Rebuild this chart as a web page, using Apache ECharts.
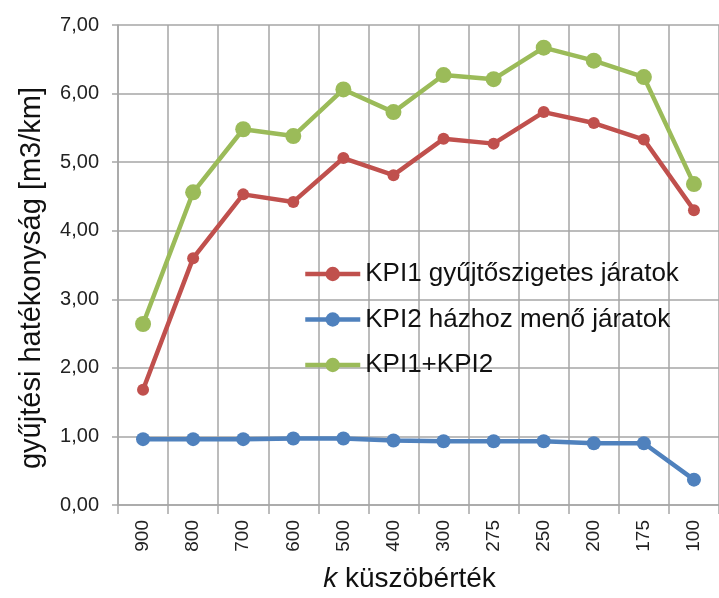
<!DOCTYPE html>
<html>
<head>
<meta charset="utf-8">
<script src="https://cdn.jsdelivr.net/npm/echarts@6/dist/echarts.min.js"></script>
<style>html,body{margin:0;padding:0;background:#fff}#c{width:719px;height:598px}</style>
</head>
<body>
<div id="c"></div>
<script>
var categories = ['900','800','700','600','500','400','300','275','250','200','175','100'];
var kpi1 = [1.68, 3.60, 4.53, 4.42, 5.06, 4.81, 5.34, 5.27, 5.73, 5.57, 5.33, 4.30];
var kpi2 = [0.96, 0.96, 0.96, 0.97, 0.97, 0.94, 0.93, 0.93, 0.93, 0.90, 0.90, 0.37];
var kpiSum = [2.64, 4.56, 5.48, 5.38, 6.06, 5.73, 6.27, 6.21, 6.67, 6.48, 6.24, 4.68];
var names = ['KPI1 gyűjtőszigetes járatok', 'KPI2 házhoz menő járatok', 'KPI1+KPI2'];
var yTicks = [0, 1, 2, 3, 4, 5, 6, 7];

var FONT = 'Liberation Sans';
var gridColor = '#a6a6a6';
var chart = echarts.init(document.getElementById('c'), null, {renderer: 'canvas'});

function mk(name, data, color, size) {
  return {
    name: name, type: 'line', data: data,
    symbol: 'circle', symbolSize: size,
    lineStyle: {width: 4.5, color: color},
    itemStyle: {color: color},
    animation: false
  };
}

chart.setOption({
  animation: false,
  textStyle: {fontFamily: FONT},
  grid: {left: 118, right: 0, top: 25, bottom: 91, containLabel: false},
  legend: {
    orient: 'vertical', left: 303, top: 261, padding: 0,
    itemWidth: 55, itemHeight: 18, itemGap: 19.5,
    lineStyle: {width: 4.5},
    textStyle: {fontFamily: FONT, fontSize: 26, color: '#111'},
    data: names
  },
  xAxis: {
    type: 'category', data: categories, boundaryGap: true,
    axisLine: {lineStyle: {color: gridColor, width: 1.5}},
    axisTick: {show: true, length: 9, lineStyle: {color: gridColor, width: 1.5}},
    splitLine: {show: true, lineStyle: {color: gridColor, width: 1.5}},
    axisLabel: {rotate: 90, fontSize: 19, color: '#222', margin: 15, fontFamily: FONT},
    name: '{i|k} küszöbérték', nameLocation: 'middle', nameGap: 60,
    nameTextStyle: {fontSize: 28, color: '#111', fontFamily: FONT, padding: [0, 18, 0, 0],
      rich: {i: {fontStyle: 'italic', fontSize: 28, fontFamily: FONT, color: '#111'}}}
  },
  yAxis: {
    type: 'value', min: yTicks[0], max: yTicks[yTicks.length - 1], interval: 1,
    axisLine: {show: true, lineStyle: {color: gridColor, width: 1.5}},
    axisTick: {show: true, length: 6, lineStyle: {color: gridColor, width: 1.5}},
    splitLine: {show: true, lineStyle: {color: gridColor, width: 1.5}},
    axisLabel: {fontSize: 20, color: '#222', margin: 19, fontFamily: FONT,
      formatter: function (v) { return v.toFixed(2).replace('.', ','); }},
    name: 'gyűjtési hatékonyság [m3/km]', nameLocation: 'middle', nameGap: 72,
    nameTextStyle: {fontSize: 29, color: '#111', fontFamily: FONT, padding: [0, 26, 0, 0]}
  },
  series: [
    mk(names[0], kpi1, '#C0504D', 12),
    mk(names[1], kpi2, '#4F81BD', 14),
    mk(names[2], kpiSum, '#9BBB59', 16)
  ]
});
</script>
</body>
</html>
